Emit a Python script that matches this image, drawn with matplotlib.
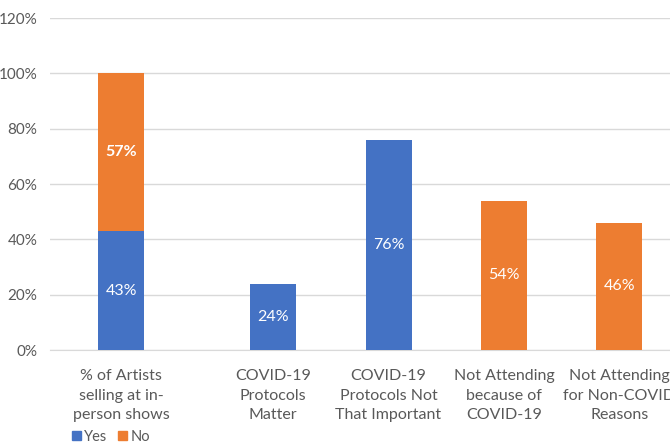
import matplotlib
matplotlib.use("Agg")
import matplotlib.pyplot as plt
from matplotlib.patches import Patch

categories = ["% of Artists\nselling at in-\nperson shows",
              "COVID-19\nProtocols\nMatter",
              "COVID-19\nProtocols Not\nThat Important",
              "Not Attending\nbecause of\nCOVID-19",
              "Not Attending\nfor Non-COVID\nReasons"]
yes_values = [43, 24, 76, 0, 0]
no_values = [57, 0, 0, 54, 46]
yticks = [0, 20, 40, 60, 80, 100, 120]

BLUE = "#4472C4"
ORANGE = "#ED7D31"
GRID = "#D9D9D9"
TXT = "#595959"

plt.rcParams['font.family'] = ['Lato', 'DejaVu Sans']

fig = plt.figure(figsize=(6.7, 4.44), dpi=100)
ax = fig.add_axes([50/670, 94/444, 637/670, 332/444])

x = [0, 1.315, 2.315, 3.315, 4.315]
w = 0.398

for xi, yv, nv in zip(x, yes_values, no_values):
    if yv:
        ax.bar(xi, yv, w, color=BLUE, zorder=3)
        ax.text(xi, yv/2, f"{yv}%", ha="center", va="center", color="white", fontsize=11.5, zorder=4)
    if nv:
        ax.bar(xi, nv, w, bottom=yv, color=ORANGE, zorder=3)
        bold = "bold" if yv else "normal"
        ax.text(xi, yv + nv/2, f"{nv}%", ha="center", va="center", color="white",
                fontsize=11.5, fontweight=bold, zorder=4)

ax.set_xlim(-0.617, 4.9)
ax.set_ylim(0, 120)
ax.set_yticks(yticks)
ax.set_yticklabels([f"{t}%" for t in yticks], color=TXT, fontsize=11)
ax.set_xticks(x)
ax.set_xticklabels(categories, color=TXT, fontsize=11.5, linespacing=1.5)
ax.tick_params(axis="both", length=0)
ax.tick_params(axis="y", pad=9)
ax.tick_params(axis="x", pad=14)
ax.grid(axis="y", color=GRID, linewidth=1, zorder=0)
for s in ["top", "right", "left"]:
    ax.spines[s].set_visible(False)
ax.spines["bottom"].set_color(GRID)
ax.spines["bottom"].set_zorder(1)

handles = [Patch(color=BLUE, label="Yes"), Patch(color=ORANGE, label="No")]
fig.legend(handles=handles, loc="center left", bbox_to_anchor=(72/670, 1 - 437/444),
           ncol=2, frameon=False, fontsize=10.5, labelcolor=TXT,
           handlelength=0.6, handleheight=0.6, handletextpad=0.25, columnspacing=0.7,
           borderpad=0, borderaxespad=0)

fig.savefig("out.png", dpi=100)
